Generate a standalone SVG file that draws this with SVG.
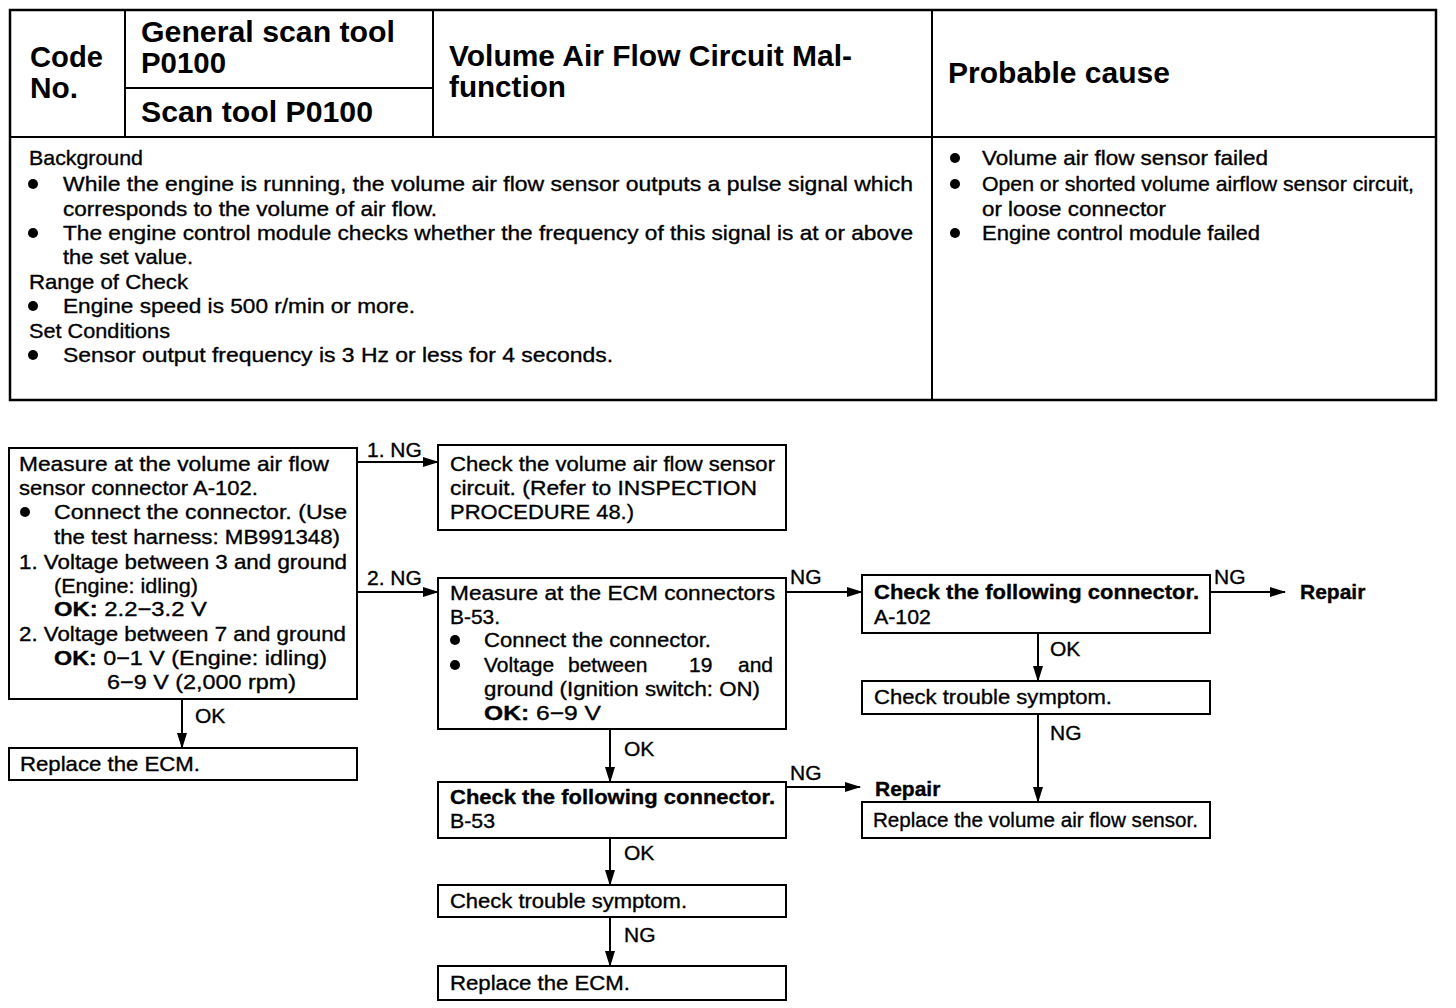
<svg xmlns="http://www.w3.org/2000/svg" width="1456" height="1008" viewBox="0 0 1456 1008">
<defs>
<marker id="arr" markerUnits="userSpaceOnUse" markerWidth="16" markerHeight="10" refX="15" refY="5" orient="auto">
<path d="M0,0 L16,5 L0,10 z" fill="#000"/>
</marker>
<style>
text{font-family:"Liberation Sans",Arial,sans-serif;fill:#000}
.h{font-size:30px;font-weight:bold}
.t{font-size:21px;stroke:#000;stroke-width:0.35}
.b{font-weight:bold}
.box{fill:#fff;stroke:#000;stroke-width:2}
.ln{fill:none;stroke:#000;stroke-width:2}
.c{stroke:#000;stroke-width:2;fill:none;marker-end:url(#arr)}
.dot{fill:#000}
</style>
</defs>
<rect width="1456" height="1008" fill="#fff"/>

<g id="table">
<rect x="10" y="10" width="1426" height="390" fill="none" stroke="#000" stroke-width="2.5"/>
<line class="ln" x1="10" y1="137" x2="1436" y2="137"/>
<line class="ln" x1="125" y1="10" x2="125" y2="137"/>
<line class="ln" x1="433" y1="10" x2="433" y2="137"/>
<line class="ln" x1="932" y1="10" x2="932" y2="400"/>
<line class="ln" x1="125" y1="88" x2="433" y2="88"/>
<text class="h" x="30" y="67" textLength="73" lengthAdjust="spacingAndGlyphs">Code</text>
<text class="h" x="30" y="98" textLength="48" lengthAdjust="spacingAndGlyphs">No.</text>
<text class="h" x="141" y="42" textLength="254" lengthAdjust="spacingAndGlyphs">General scan tool</text>
<text class="h" x="141" y="73" textLength="85" lengthAdjust="spacingAndGlyphs">P0100</text>
<text class="h" x="141" y="122" textLength="232" lengthAdjust="spacingAndGlyphs">Scan tool P0100</text>
<text class="h" x="449" y="66" textLength="403" lengthAdjust="spacingAndGlyphs">Volume Air Flow Circuit Mal-</text>
<text class="h" x="449" y="97" textLength="117" lengthAdjust="spacingAndGlyphs">function</text>
<text class="h" x="948" y="83" textLength="222" lengthAdjust="spacingAndGlyphs">Probable cause</text>

<text class="t" x="29" y="165" textLength="114" lengthAdjust="spacingAndGlyphs">Background</text>
<circle class="dot" cx="33" cy="184" r="5"/>
<text class="t" x="63" y="191" textLength="850" lengthAdjust="spacingAndGlyphs">While the engine is running, the volume air flow sensor outputs a pulse signal which</text>
<text class="t" x="63" y="216" textLength="374" lengthAdjust="spacingAndGlyphs">corresponds to the volume of air flow.</text>
<circle class="dot" cx="33" cy="233" r="5"/>
<text class="t" x="63" y="240" textLength="850" lengthAdjust="spacingAndGlyphs">The engine control module checks whether the frequency of this signal is at or above</text>
<text class="t" x="63" y="264" textLength="130" lengthAdjust="spacingAndGlyphs">the set value.</text>
<text class="t" x="29" y="289" textLength="159" lengthAdjust="spacingAndGlyphs">Range of Check</text>
<circle class="dot" cx="33" cy="306" r="5"/>
<text class="t" x="63" y="313" textLength="352" lengthAdjust="spacingAndGlyphs">Engine speed is 500 r/min or more.</text>
<text class="t" x="29" y="338" textLength="141" lengthAdjust="spacingAndGlyphs">Set Conditions</text>
<circle class="dot" cx="33" cy="355" r="5"/>
<text class="t" x="63" y="362" textLength="550" lengthAdjust="spacingAndGlyphs">Sensor output frequency is 3 Hz or less for 4 seconds.</text>

<circle class="dot" cx="955" cy="158" r="5"/>
<text class="t" x="982" y="165" textLength="286" lengthAdjust="spacingAndGlyphs">Volume air flow sensor failed</text>
<circle class="dot" cx="955" cy="184" r="5"/>
<text class="t" x="982" y="191" textLength="432" lengthAdjust="spacingAndGlyphs">Open or shorted volume airflow sensor circuit,</text>
<text class="t" x="982" y="216" textLength="184" lengthAdjust="spacingAndGlyphs">or loose connector</text>
<circle class="dot" cx="955" cy="233" r="5"/>
<text class="t" x="982" y="240" textLength="278" lengthAdjust="spacingAndGlyphs">Engine control module failed</text>
</g>

<g id="connectors">
<line class="c" x1="357" y1="462" x2="438" y2="462"/>
<text class="t" x="367" y="457">1. NG</text>
<line class="c" x1="357" y1="592" x2="438" y2="592"/>
<text class="t" x="367" y="585">2. NG</text>
<line class="c" x1="182" y1="699" x2="182" y2="748"/>
<text class="t" x="195" y="723">OK</text>
<line class="c" x1="786" y1="592" x2="862" y2="592"/>
<text class="t" x="790" y="584">NG</text>
<line class="c" x1="1210" y1="592" x2="1285" y2="592"/>
<text class="t" x="1214" y="584">NG</text>
<line class="c" x1="1038" y1="633" x2="1038" y2="681"/>
<text class="t" x="1050" y="656">OK</text>
<line class="c" x1="1038" y1="714" x2="1038" y2="802"/>
<text class="t" x="1050" y="740">NG</text>
<line class="c" x1="610" y1="729" x2="610" y2="782"/>
<text class="t" x="624" y="756">OK</text>
<line class="c" x1="786" y1="787" x2="860" y2="787"/>
<text class="t" x="790" y="780">NG</text>
<line class="c" x1="610" y1="838" x2="610" y2="885"/>
<text class="t" x="624" y="860">OK</text>
<line class="c" x1="610" y1="917" x2="610" y2="966"/>
<text class="t" x="624" y="942">NG</text>
</g>

<g id="n1">
<rect class="box" x="9" y="448" width="348" height="251"/>
<text class="t" x="19" y="471" textLength="310" lengthAdjust="spacingAndGlyphs">Measure at the volume air flow</text>
<text class="t" x="19" y="495" textLength="239" lengthAdjust="spacingAndGlyphs">sensor connector A-102.</text>
<circle class="dot" cx="25" cy="512" r="5"/>
<text class="t" x="54" y="519" textLength="293" lengthAdjust="spacingAndGlyphs">Connect the connector. (Use</text>
<text class="t" x="54" y="544" textLength="286" lengthAdjust="spacingAndGlyphs">the test harness: MB991348)</text>
<text class="t" x="19" y="569" textLength="328" lengthAdjust="spacingAndGlyphs">1. Voltage between 3 and ground</text>
<text class="t" x="54" y="593" textLength="144" lengthAdjust="spacingAndGlyphs">(Engine: idling)</text>
<text class="t" x="54" y="616" textLength="153" lengthAdjust="spacingAndGlyphs"><tspan class="b">OK:</tspan>  2.2−3.2 V</text>
<text class="t" x="19" y="641" textLength="327" lengthAdjust="spacingAndGlyphs">2. Voltage between 7 and ground</text>
<text class="t" x="54" y="665" textLength="273" lengthAdjust="spacingAndGlyphs"><tspan class="b">OK:</tspan>  0−1 V (Engine: idling)</text>
<text class="t" x="107" y="689" textLength="189" lengthAdjust="spacingAndGlyphs">6−9 V (2,000 rpm)</text>
</g>

<g id="n2">
<rect class="box" x="438" y="445" width="348" height="85"/>
<text class="t" x="450" y="471" textLength="325" lengthAdjust="spacingAndGlyphs">Check the volume air flow sensor</text>
<text class="t" x="450" y="495" textLength="307" lengthAdjust="spacingAndGlyphs">circuit. (Refer to INSPECTION</text>
<text class="t" x="450" y="519" textLength="184" lengthAdjust="spacingAndGlyphs">PROCEDURE 48.)</text>
</g>

<g id="n3">
<rect class="box" x="438" y="578" width="348" height="151"/>
<text class="t" x="450" y="600" textLength="325" lengthAdjust="spacingAndGlyphs">Measure at the ECM connectors</text>
<text class="t" x="450" y="624" textLength="50" lengthAdjust="spacingAndGlyphs">B-53.</text>
<circle class="dot" cx="455" cy="640" r="5"/>
<text class="t" x="484" y="647" textLength="227" lengthAdjust="spacingAndGlyphs">Connect the connector.</text>
<circle class="dot" cx="455" cy="665" r="5"/>
<text class="t" y="672"><tspan x="484">Voltage</tspan><tspan x="568">between</tspan><tspan x="689">19</tspan><tspan x="738">and</tspan></text>
<text class="t" x="484" y="696" textLength="276" lengthAdjust="spacingAndGlyphs">ground (Ignition switch: ON)</text>
<text class="t" x="484" y="720" textLength="117" lengthAdjust="spacingAndGlyphs"><tspan class="b">OK:</tspan>  6−9 V</text>
</g>

<g id="n4">
<rect class="box" x="438" y="782" width="348" height="56"/>
<text class="t b" x="450" y="804" textLength="325" lengthAdjust="spacingAndGlyphs">Check the following connector.</text>
<text class="t" x="450" y="828" textLength="45" lengthAdjust="spacingAndGlyphs">B-53</text>
</g>

<g id="n5">
<rect class="box" x="438" y="885" width="348" height="32"/>
<text class="t" x="450" y="908" textLength="237" lengthAdjust="spacingAndGlyphs">Check trouble symptom.</text>
</g>

<g id="n6">
<rect class="box" x="438" y="966" width="348" height="34"/>
<text class="t" x="450" y="990" textLength="180" lengthAdjust="spacingAndGlyphs">Replace the ECM.</text>
</g>

<g id="n7">
<rect class="box" x="9" y="748" width="348" height="32"/>
<text class="t" x="20" y="771" textLength="180" lengthAdjust="spacingAndGlyphs">Replace the ECM.</text>
</g>

<g id="n8">
<rect class="box" x="862" y="575" width="348" height="58"/>
<text class="t b" x="874" y="599" textLength="325" lengthAdjust="spacingAndGlyphs">Check the following connector.</text>
<text class="t" x="874" y="624" textLength="57" lengthAdjust="spacingAndGlyphs">A-102</text>
</g>

<g id="n9">
<rect class="box" x="862" y="681" width="348" height="33"/>
<text class="t" x="874" y="704" textLength="238" lengthAdjust="spacingAndGlyphs">Check trouble symptom.</text>
</g>

<g id="n10">
<rect class="box" x="862" y="802" width="348" height="36"/>
<text class="t" x="873" y="827" textLength="325" lengthAdjust="spacingAndGlyphs">Replace the volume air flow sensor.</text>
</g>

<g id="repair1">
<text class="t b" x="1300" y="599">Repair</text>
</g>
<g id="repair2">
<text class="t b" x="875" y="796">Repair</text>
</g>
</svg>
